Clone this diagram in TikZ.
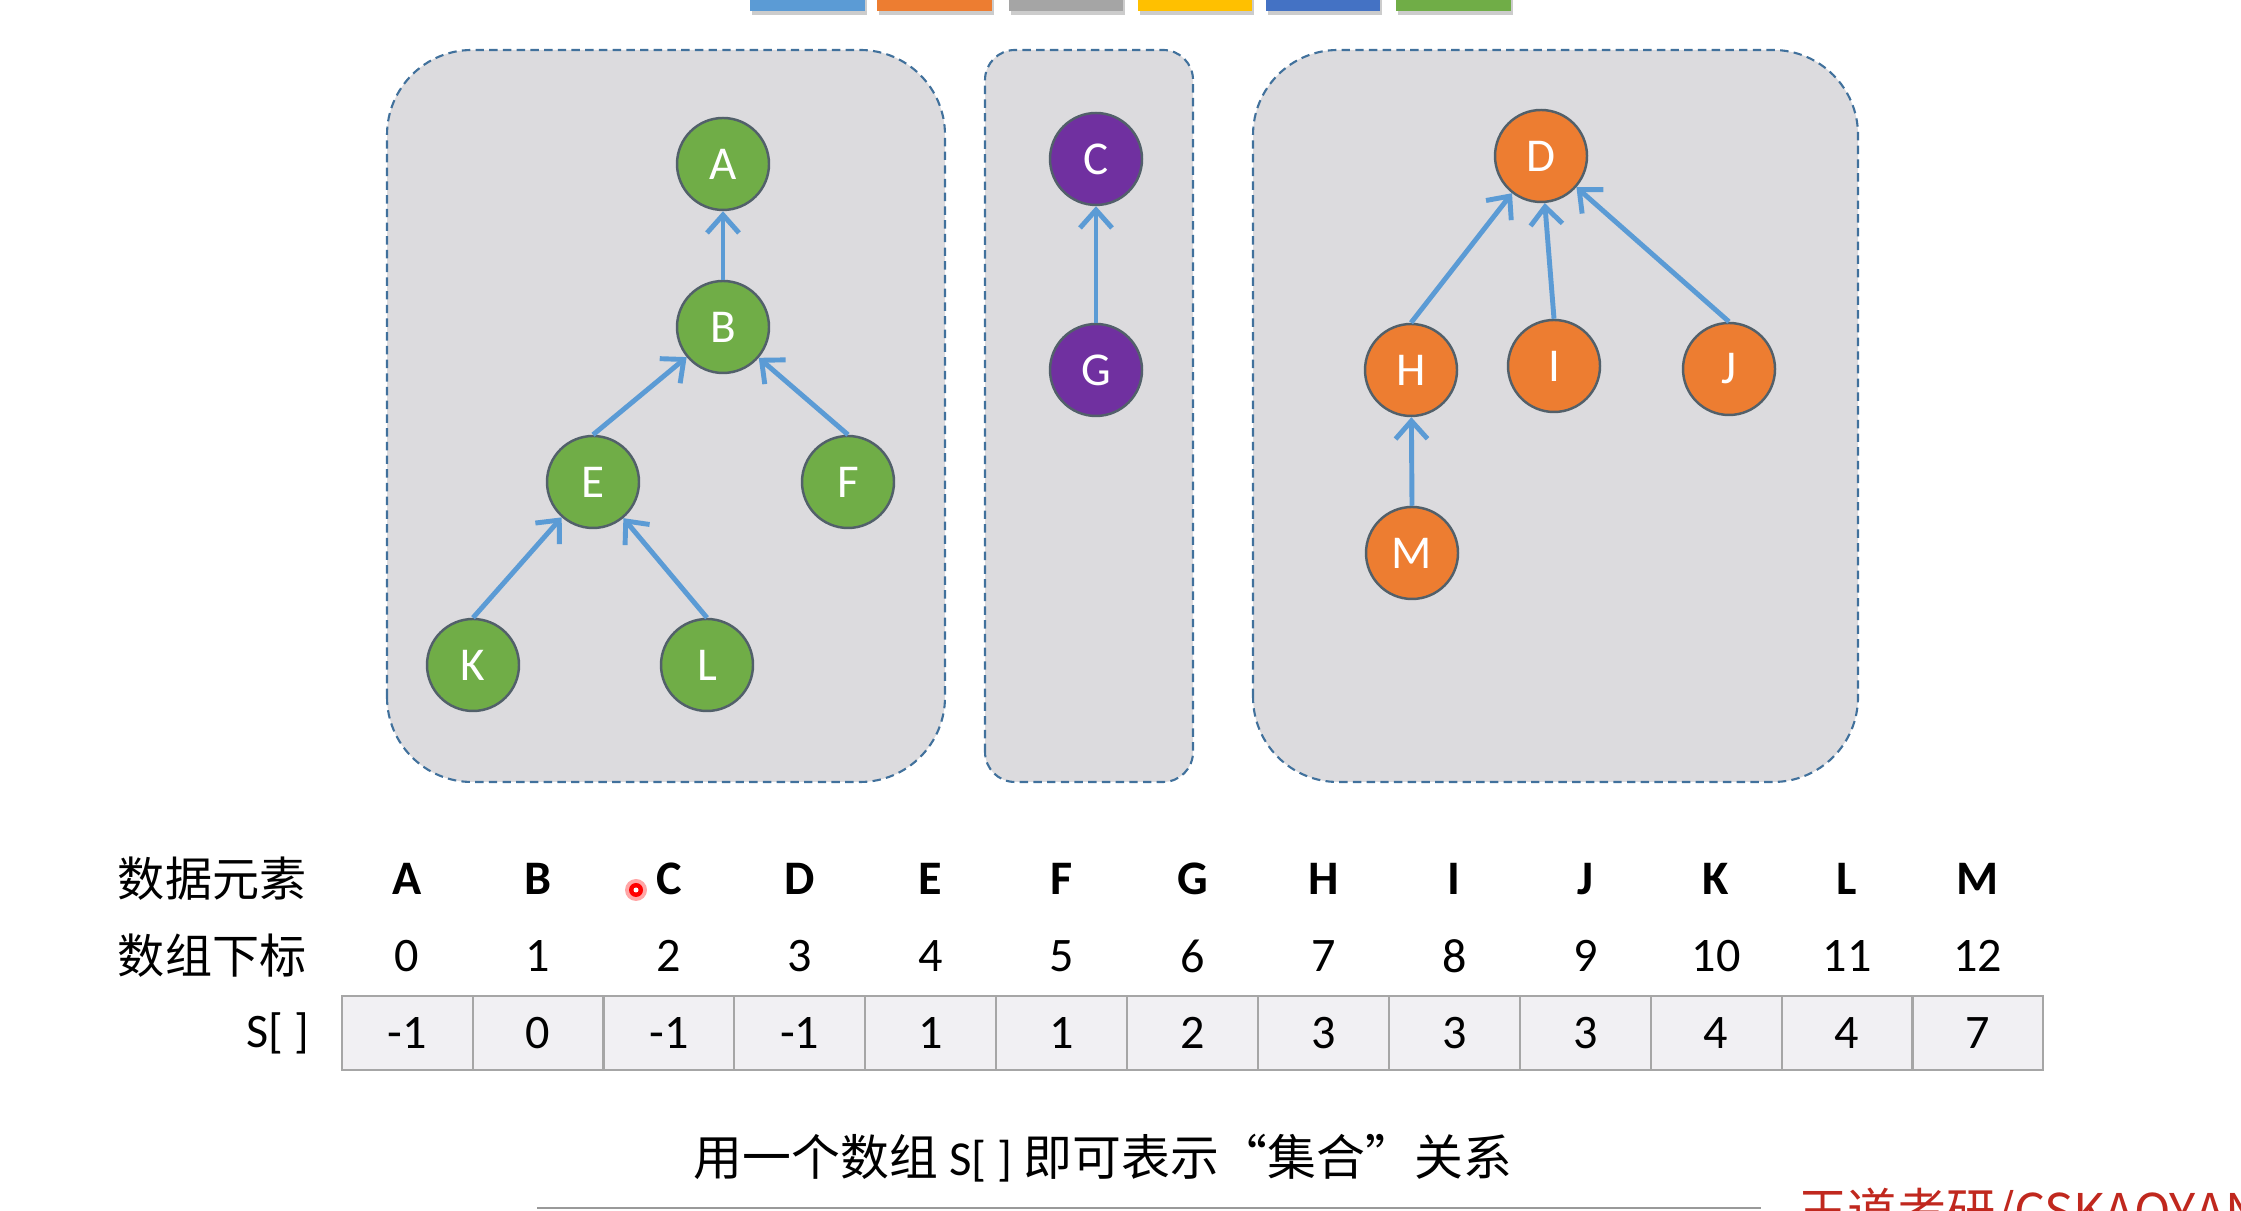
\documentclass[tikz,border=0pt]{standalone}
\usepackage{fontspec}
\setmainfont{Carlito}
\newfontfamily\cjk{Noto Sans CJK SC}
\usetikzlibrary{arrows.meta}

\definecolor{treegreen}{HTML}{70AD47}
\definecolor{treepurple}{HTML}{7030A0}
\definecolor{treeorange}{HTML}{ED7D31}
\definecolor{arrowblue}{HTML}{5B9BD5}
\definecolor{barblue}{HTML}{4472C4}
\definecolor{bargray}{HTML}{A5A5A5}
\definecolor{baryellow}{HTML}{FFC000}
\definecolor{boxgray}{HTML}{DCDBDE}
\definecolor{boxline}{HTML}{41719C}
\definecolor{nodeline}{HTML}{52606A}
\definecolor{cellgray}{HTML}{F1F0F3}
\definecolor{cellline}{HTML}{A6A6A6}
\definecolor{markred}{HTML}{C0281E}

\tikzset{
  elem/.style={circle,draw=nodeline,line width=0.7pt,minimum size=0.92cm,inner sep=0pt,
    text=white,font=\fontsize{13.4}{16}\selectfont},
  toparent/.style={draw=arrowblue,line width=1.4pt,-{Straight Barb[length=1.8mm,width=3.2mm]}},
  setbox/.style={fill=boxgray,draw=boxline,line width=0.6pt,dash pattern=on 2.4pt off 1.5pt},
  scell/.style={draw=cellline,fill=cellgray,line width=0.6pt,minimum width=1.309cm,
    minimum height=0.74cm,inner sep=0pt,font=\fontsize{13.7}{16}\selectfont},
  rowlabel/.style={anchor=east,inner sep=0pt,font=\cjk\fontsize{13.4}{16}\selectfont},
}

\begin{document}
\begin{tikzpicture}
\useasboundingbox (0,0) rectangle (22.41,12.10);
\clip (0,0) rectangle (22.41,12.10);

\foreach \xa/\xb/\col in {7.50/8.65/arrowblue,8.77/9.92/treeorange,10.09/11.23/bargray,
  11.38/12.52/baryellow,12.66/13.80/barblue,13.96/15.11/treegreen}{
  \fill[black!20] (\xa+0.02,11.95) rectangle (\xb+0.02,12.2);
  \fill[\col] (\xa,11.99) rectangle (\xb,12.2);
}

\draw[setbox,rounded corners=0.85cm] (3.87,4.28) rectangle (9.45,11.60);
\draw[setbox,rounded corners=0.3cm] (9.85,4.28) rectangle (11.93,11.60);
\draw[setbox,rounded corners=0.85cm] (12.53,4.28) rectangle (18.58,11.60);

\node[elem,fill=treegreen] (A) at (7.23,10.46) {A};
\node[elem,fill=treegreen] (B) at (7.23,8.83) {B};
\node[elem,fill=treegreen] (E) at (5.93,7.28) {E};
\node[elem,fill=treegreen] (F) at (8.48,7.28) {F};
\node[elem,fill=treegreen] (K) at (4.73,5.45) {K};
\node[elem,fill=treegreen] (L) at (7.07,5.45) {L};

\node[elem,fill=treepurple] (C) at (10.96,10.51) {C};
\node[elem,fill=treepurple] (G) at (10.96,8.40) {G};

\node[elem,fill=treeorange] (D) at (15.41,10.54) {D};
\node[elem,fill=treeorange] (H) at (14.11,8.40) {H};
\node[elem,fill=treeorange] (I) at (15.54,8.44) {I};
\node[elem,fill=treeorange] (J) at (17.29,8.41) {J};
\node[elem,fill=treeorange] (M) at (14.12,6.57) {M};

\draw[toparent] (B.north) -- (A);
\draw[toparent] (E.north) -- (B);
\draw[toparent] (F.north) -- (B);
\draw[toparent] (K.north) -- (E);
\draw[toparent] (L.north) -- (E);
\draw[toparent] (G.north) -- (C);
\draw[toparent] (H.north) -- (D);
\draw[toparent] (I.north) -- (D);
\draw[toparent] (J.north) -- (D);
\draw[toparent] (M.north) -- (H);

\node[rowlabel] (elemlabel) at (3.07,3.31) {数据元素};
\node[rowlabel] (idxlabel) at (3.07,2.54) {数组下标};
\node[anchor=east,inner sep=0pt,font=\fontsize{13.7}{16}\selectfont] (slabel) at (3.10,1.77) {S[ ]};

\foreach \name/\idx/\val in {A/0/-1,B/1/0,C/2/-1,D/3/-1,E/4/1,F/5/1,G/6/2,
  H/7/3,I/8/3,J/9/3,K/10/4,L/11/4,M/12/7}{
  \node[scell] (s\idx) at (4.071+1.309*\idx,1.77) {\val};
  \node[font=\bfseries\fontsize{13.7}{16}\selectfont] (e\idx) at (4.071+1.309*\idx,3.31) {\name};
  \node[font=\fontsize{13.7}{16}\selectfont] (i\idx) at (4.071+1.309*\idx,2.54) {\idx};
}

\fill[red,opacity=0.35] (6.36,3.20) circle (0.11);
\fill[red] (6.36,3.20) circle (0.07);
\fill[white] (6.36,3.20) circle (0.025);

\node[font=\cjk\fontsize{13.9}{17}\selectfont] (caption) at (11.03,0.52) {用一个数组 {\rmfamily S[ ]} 即可表示“集合”关系};

\draw[black!40,line width=0.6pt] (5.37,0.02) -- (17.61,0.02);
\node[anchor=north west,inner sep=0pt,text=markred,font=\cjk\fontsize{14}{17}\selectfont] (mark) at (17.98,0.23) {王道考研/CSKAOYAN.COM};

\end{tikzpicture}
\end{document}
